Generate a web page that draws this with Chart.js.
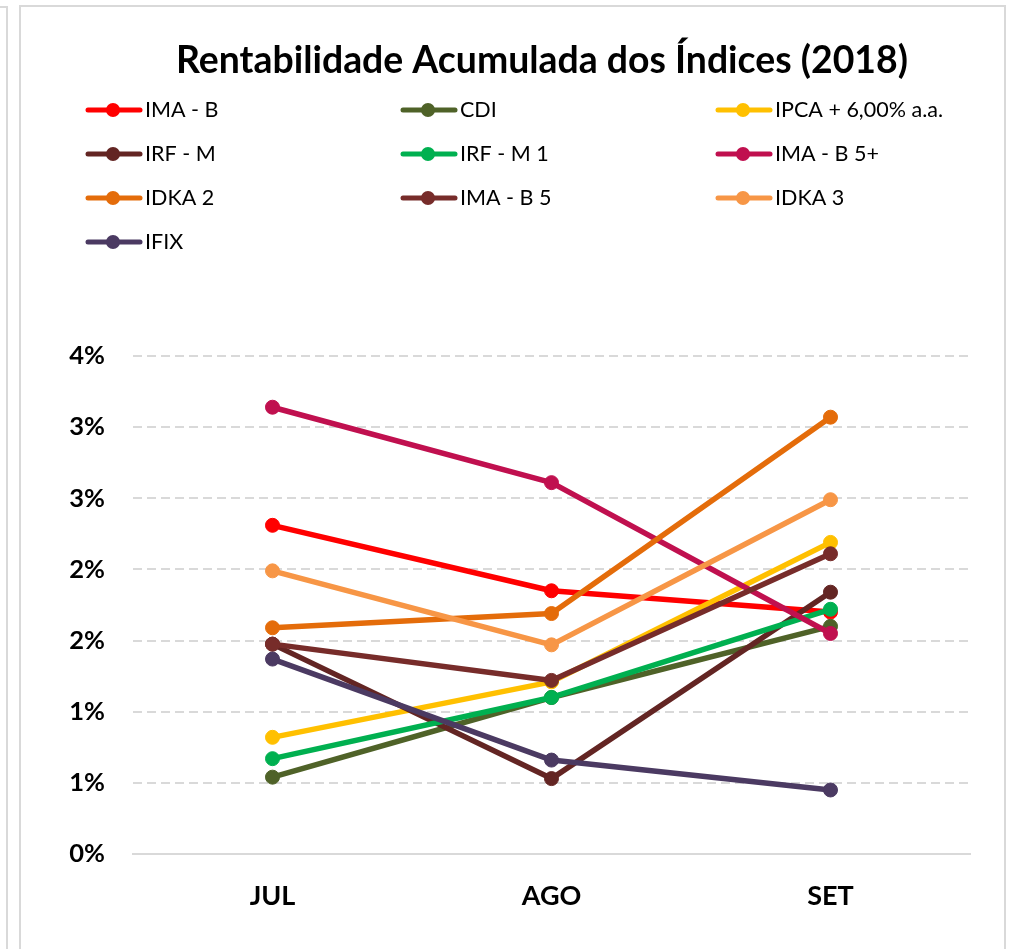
<!DOCTYPE html>
<html>
<head>
<meta charset="utf-8">
<script src="https://cdn.jsdelivr.net/npm/chart.js@4.4.0/dist/chart.umd.min.js"></script>
<style>
html,body{margin:0;padding:0;background:#fff;width:1011px;height:949px;overflow:hidden}
#left{position:absolute;left:-10px;top:6px;width:18px;height:980px;border:2px solid #d9d9d9;box-sizing:border-box}
#frame{position:absolute;left:19px;top:5px;width:987px;height:980px;border:2px solid #d9d9d9;box-sizing:border-box}
#wrap{position:absolute;left:0;top:0;width:1011px;height:949px}
</style>
</head>
<body>
<div id="left"></div>
<div id="frame"></div>
<div id="wrap"><canvas id="c" width="1011" height="949"></canvas></div>
<script>
// ---- Data (percent) ----
const categories = ['JUL', 'AGO', 'SET'];
const seriesNames = ['IMA - B', 'CDI', 'IPCA + 6,00% a.a.', 'IRF - M', 'IRF - M 1', 'IMA - B 5+', 'IDKA 2', 'IMA - B 5', 'IDKA 3', 'IFIX'];
const imaB      = [2.31, 1.85, 1.70];
const cdi       = [0.54, 1.10, 1.60];
const ipca6     = [0.82, 1.21, 2.19];
const irfM      = [1.475, 0.53, 1.84];
const irfM1     = [0.67, 1.10, 1.72];
const imaB5plus = [3.14, 2.61, 1.55];
const idka2     = [1.59, 1.69, 3.07];
const imaB5     = [1.475, 1.22, 2.11];
const idka3     = [1.99, 1.47, 2.49];
const ifix      = [1.37, 0.66, 0.45];
const yTickStep = 0.5;
const yMax = 3.5;
const titleText = 'Rentabilidade Acumulada dos Índices (2018)';

const seriesValues = [imaB, cdi, ipca6, irfM, irfM1, imaB5plus, idka2, imaB5, idka3, ifix];
const colors = ['#FF0000', '#4F6228', '#FFC000', '#632523', '#00B050', '#C0104F', '#E46C0A', '#772C2A', '#F79646', '#4B3A62'];

const FAMILY = 'Lato, "Open Sans", sans-serif';

function fitSize(ctx, text, weight, target) {
  ctx.font = weight + ' 100px ' + FAMILY;
  const w = ctx.measureText(text).width;
  return 100 * target / w;
}

const overlay = {
  id: 'overlay',
  afterDraw(chart) {
    const ctx = chart.ctx;
    ctx.save();
    // title
    const ts = fitSize(ctx, titleText, 'bold', 732);
    ctx.font = 'bold ' + ts.toFixed(2) + 'px ' + FAMILY;
    ctx.fillStyle = '#000';
    ctx.textAlign = 'center';
    ctx.textBaseline = 'alphabetic';
    ctx.fillText(titleText, 542, 73);
    // legend
    const ls = fitSize(ctx, 'IPCA + 6,00% a.a.', 'normal', 168);
    const colX = [86, 401, 716];
    chart.data.datasets.forEach((ds, i) => {
      const col = i % 3, row = Math.floor(i / 3);
      const x0 = colX[col];
      const y = 110 + row * 44;
      ctx.strokeStyle = ds.borderColor;
      ctx.lineWidth = 5;
      ctx.lineCap = 'round';
      ctx.beginPath();
      ctx.moveTo(x0 + 2, y);
      ctx.lineTo(x0 + 54, y);
      ctx.stroke();
      ctx.fillStyle = ds.borderColor;
      ctx.beginPath();
      ctx.arc(x0 + 27, y, 7, 0, Math.PI * 2);
      ctx.fill();
      ctx.fillStyle = '#000';
      ctx.textAlign = 'left';
      ctx.font = 'normal ' + ls.toFixed(2) + 'px ' + FAMILY;
      ctx.fillText(ds.label, x0 + 59, y + 7);
    });
    ctx.restore();
  }
};

const datasets = seriesNames.map((name, i) => ({
  label: name,
  data: seriesValues[i],
  borderColor: colors[i],
  backgroundColor: colors[i],
  pointBackgroundColor: colors[i],
  pointBorderColor: colors[i],
  borderWidth: 5.5,
  pointRadius: 7,
  pointBorderWidth: 1,
  tension: 0,
  borderJoinStyle: 'round',
  borderCapStyle: 'round',
  fill: false,
  order: -i
}));

new Chart(document.getElementById('c'), {
  type: 'line',
  data: { labels: categories, datasets },
  options: {
    responsive: false,
    animation: false,
    devicePixelRatio: 1,
    layout: { padding: { left: 20, right: 41, top: 356, bottom: 0 } },
    plugins: { legend: { display: false }, title: { display: false }, tooltip: { enabled: false } },
    scales: {
      x: {
        offset: true,
        grid: { display: false, drawTicks: false },
        border: { display: true, color: '#d9d9d9', width: 2 },
        ticks: { color: '#000', padding: 26, font: { family: FAMILY, size: 27, weight: 'bold' } },
        afterFit(s) { s.height = 95; }
      },
      y: {
        min: 0,
        max: yMax,
        ticks: {
          stepSize: yTickStep,
          color: '#000',
          padding: 28,
          font: { family: FAMILY, size: 25.5, weight: 'bold' },
          callback: v => Math.round(v) + '%'
        },
        grid: { color: '#d9d9d9', lineWidth: 2, drawTicks: false },
        border: { display: false, dash: ctx => (ctx.tick && ctx.tick.value === 0) ? [] : [9, 5] },
        afterFit(s) { s.width = 113; }
      }
    }
  },
  plugins: [overlay]
});
</script>
</body>
</html>
